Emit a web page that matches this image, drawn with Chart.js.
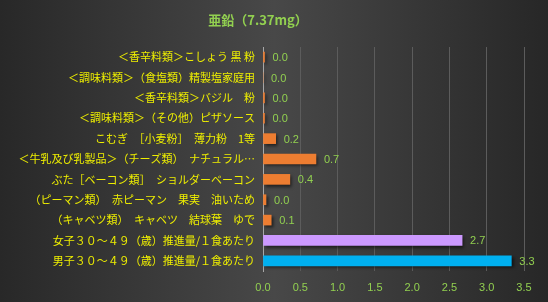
<!DOCTYPE html>
<html><head><meta charset="utf-8">
<script src="https://cdn.jsdelivr.net/npm/chart.js@4/dist/chart.umd.min.js"></script>
<style>html,body{margin:0;padding:0;background:#333;}#wrap{width:548px;height:302px;}</style>
</head><body><div id="wrap"><canvas id="c" width="548" height="302"></canvas></div>
<script>
const chartTitle = "亜鉛（7.37mg）";
const categories = [
  "＜香辛料類＞こしょう 黒 粉",
  "＜調味料類＞（食塩類）精製塩家庭用",
  "＜香辛料類＞バジル　粉",
  "＜調味料類＞（その他）ピザソース",
  "こむぎ　［小麦粉］　薄力粉　1等",
  "＜牛乳及び乳製品＞（チーズ類）　ナチュラル…",
  "ぶた［ベーコン類］　ショルダーベーコン",
  "（ピーマン類）　赤ピーマン　果実　油いため",
  "（キャベツ類）　キャベツ　結球葉　ゆで",
  "女子３０～４９（歳）推進量/１食あたり",
  "男子３０～４９（歳）推進量/１食あたり"
];
const zincValues = [0.02, 0.0, 0.02, 0.02, 0.17, 0.71, 0.36, 0.04, 0.11, 2.67, 3.33];
const barColors = ["#ed7d31","#ed7d31","#ed7d31","#ed7d31","#ed7d31","#ed7d31","#ed7d31","#ed7d31","#ed7d31","#cc99ff","#00b0f0"];
const xTicks = [0, 0.5, 1.0, 1.5, 2.0, 2.5, 3.0, 3.5];

const bgPlugin = {
  id: 'bg',
  beforeDraw(chart) {
    const ctx = chart.ctx, w = chart.width, h = chart.height;
    const g = ctx.createLinearGradient(0, 0, w, 0);
    g.addColorStop(0, '#282828');
    g.addColorStop(0.5, '#484848');
    g.addColorStop(1, '#272727');
    ctx.save(); ctx.fillStyle = g; ctx.fillRect(0, 0, w, h);
    ctx.fillStyle = '#92d050';
    ctx.font = 'bold 13px "Noto Sans CJK JP"';
    ctx.textAlign = 'center'; ctx.textBaseline = 'middle';
    ctx.fillText(chartTitle, 258, 20);
    ctx.restore();
  },
  beforeDatasetsDraw(chart) {
    const ctx = chart.ctx; ctx.save();
    ctx.shadowColor = 'rgba(0,0,0,0.55)';
    ctx.shadowOffsetX = 2; ctx.shadowOffsetY = 2; ctx.shadowBlur = 3;
  },
  afterDatasetsDraw(chart) {
    const ctx = chart.ctx; ctx.restore();
    const meta = chart.getDatasetMeta(0);
    ctx.save();
    ctx.fillStyle = '#92d050';
    ctx.font = '11px "Liberation Sans", sans-serif';
    ctx.textAlign = 'left'; ctx.textBaseline = 'middle';
    meta.data.forEach((bar, i) => {
      ctx.fillText(zincValues[i].toFixed(1), bar.x + 8, bar.y + 1);
    });
    ctx.restore();
  }
};

new Chart(document.getElementById('c'), {
  type: 'bar',
  data: {
    labels: categories,
    datasets: [{ data: zincValues, backgroundColor: barColors, barThickness: 10 }]
  },
  options: {
    indexAxis: 'y',
    responsive: false,
    animation: false,
    layout: { padding: { left: 0, right: 24, top: 47, bottom: 0 } },
    plugins: { legend: { display: false }, tooltip: { enabled: false } },
    scales: {
      x: {
        min: 0, max: 3.5,
        afterBuildTicks(s) { s.ticks = xTicks.map(v => ({ value: v })); },
        afterFit(s) { s.height = 31; },
        grid: { color: '#5c5c5c', drawTicks: false, lineWidth: 1 },
        border: { display: false },
        ticks: { color: '#92d050', padding: 10, font: { size: 11, family: '"Liberation Sans", sans-serif' },
          callback: v => Number(v).toFixed(1) }
      },
      y: {
        afterFit(s) { s.width = 263; },
        grid: { display: false, drawTicks: false },
        border: { display: true, color: '#a8a8a8' },
        ticks: { color: '#eeee00', padding: 8, font: { size: 11, family: '"Noto Sans CJK JP"' } }
      }
    }
  },
  plugins: [bgPlugin]
});
</script></body></html>
